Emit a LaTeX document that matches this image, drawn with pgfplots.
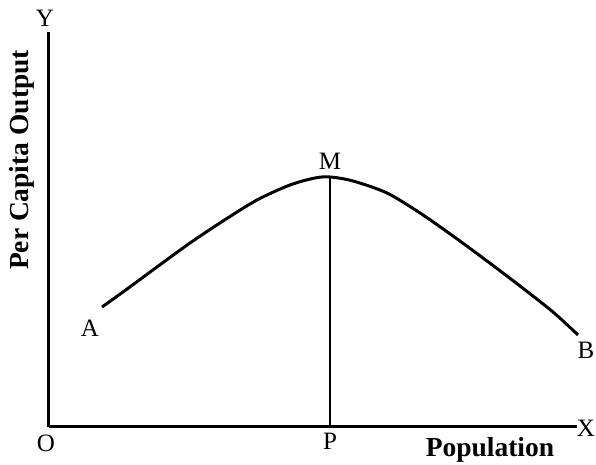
\documentclass[border=0pt]{standalone}
\usepackage{fontspec}
\setmainfont{Liberation Serif}
\usepackage{pgfplots}
\pgfplotsset{compat=1.18}

\begin{document}
\begin{tikzpicture}[x=0.4pt,y=0.4pt]
% page frame in reference pixels (origin of the axes at pixel 49,427)
\useasboundingbox (-49,-38) rectangle (547,427);
\begin{axis}[
  at={(0,0)}, anchor=south west,
  scale only axis,
  width=211.2pt, height=158pt,
  xmin=0, xmax=528, ymin=0, ymax=395,
  axis lines=left,
  axis line style={line width=1.2pt, -},
  ticks=none,
  clip=false,
  every node/.style={font=\fontsize{12.5}{14}\selectfont},
]
  %% Per capita output curve A -> M -> B
  \addplot[smooth, line width=1.2pt, black] coordinates {
    (53,120)(74,135)(108,160)(141,184)(174,206)(208,227)(241,242)
    (266,249)(281,250)(304,246)(338,234)(371,214)(404,191)
    (438,166)(471,141)(504,115)(529,92)};
  %% MP
  \addplot[line width=1pt, black] coordinates {(281,0)(281,250)};

  \node at (axis cs:-4,409) {Y};
  \node at (axis cs:537,-1) {X};
  \node at (axis cs:-3,-16) {O};
  \node at (axis cs:281,-14) {P};
  \node at (axis cs:41,99) {A};
  \node at (axis cs:281,266) {M};
  \node at (axis cs:537,77) {B};
  \node[font=\fontsize{11}{13}\selectfont\bfseries] at (axis cs:441,-23) {Population};
  \node[font=\fontsize{11}{13}\selectfont\bfseries, rotate=90] at (axis cs:-27,267) {Per Capita Output};
\end{axis}
\end{tikzpicture}
\end{document}
